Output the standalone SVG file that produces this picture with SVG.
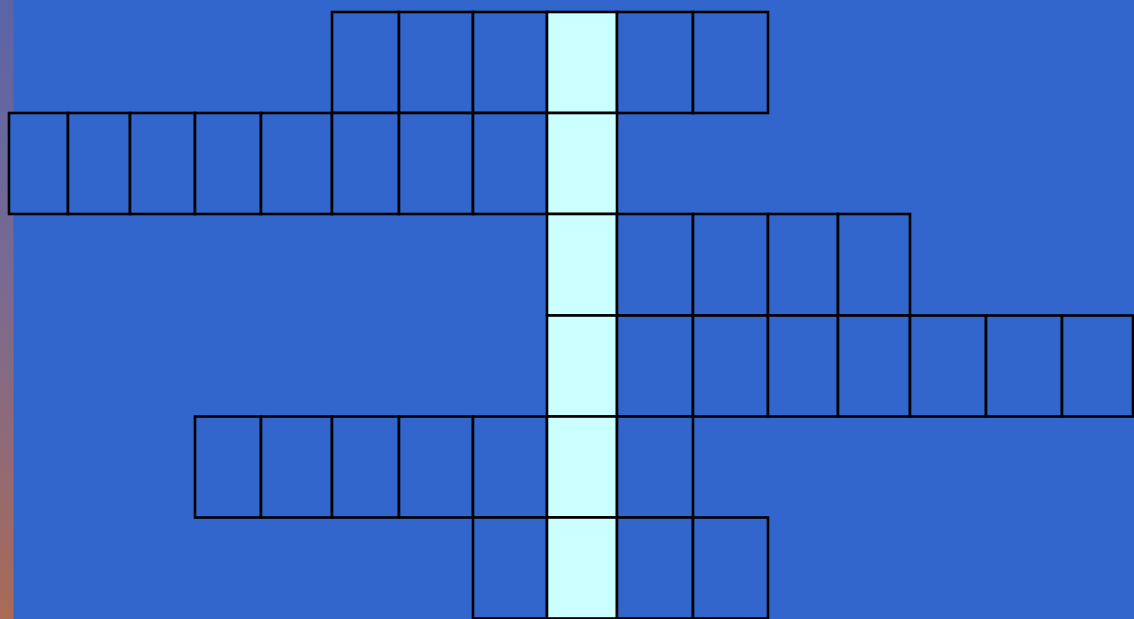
<svg xmlns="http://www.w3.org/2000/svg" width="1134" height="619" viewBox="0 0 1134 619">
<defs>
<linearGradient id="strip" x1="0" y1="0" x2="0" y2="1">
<stop offset="0" stop-color="#5a64a8"/>
<stop offset="0.5" stop-color="#7d6a8e"/>
<stop offset="1" stop-color="#aa6a56"/>
</linearGradient>
<style>
.c{fill:#3366cc;stroke:#000;stroke-width:2.6}
.h{fill:#ccffff;stroke:#000;stroke-width:2.6}
</style>
</defs>
<rect x="0" y="0" width="1134" height="619" fill="#3366cc"/>
<rect x="0" y="0" width="13.5" height="619" fill="url(#strip)"/>
<g id="row1">
<rect class="c" x="332" y="12" width="67" height="101"/>
<rect class="c" x="399" y="12" width="74" height="101"/>
<rect class="c" x="473" y="12" width="74" height="101"/>
<rect class="h" x="547" y="12" width="70" height="101"/>
<rect class="c" x="617" y="12" width="76" height="101"/>
<rect class="c" x="693" y="12" width="75" height="101"/>
</g>
<g id="row2">
<rect class="c" x="9" y="113" width="59" height="101"/>
<rect class="c" x="68" y="113" width="62" height="101"/>
<rect class="c" x="130" y="113" width="65" height="101"/>
<rect class="c" x="195" y="113" width="66" height="101"/>
<rect class="c" x="261" y="113" width="71" height="101"/>
<rect class="c" x="332" y="113" width="67" height="101"/>
<rect class="c" x="399" y="113" width="74" height="101"/>
<rect class="c" x="473" y="113" width="74" height="101"/>
<rect class="h" x="547" y="113" width="70" height="101"/>
</g>
<g id="row3">
<rect class="h" x="547" y="214" width="70" height="101.5"/>
<rect class="c" x="617" y="214" width="76" height="101.5"/>
<rect class="c" x="693" y="214" width="75" height="101.5"/>
<rect class="c" x="768" y="214" width="70" height="101.5"/>
<rect class="c" x="838" y="214" width="72" height="101.5"/>
</g>
<g id="row4">
<rect class="h" x="547" y="315.5" width="70" height="101"/>
<rect class="c" x="617" y="315.5" width="76" height="101"/>
<rect class="c" x="693" y="315.5" width="75" height="101"/>
<rect class="c" x="768" y="315.5" width="70" height="101"/>
<rect class="c" x="838" y="315.5" width="72" height="101"/>
<rect class="c" x="910" y="315.5" width="76" height="101"/>
<rect class="c" x="986" y="315.5" width="76" height="101"/>
<rect class="c" x="1062" y="315.5" width="71" height="101"/>
</g>
<g id="row5">
<rect class="c" x="195" y="416.5" width="66" height="101"/>
<rect class="c" x="261" y="416.5" width="71" height="101"/>
<rect class="c" x="332" y="416.5" width="67" height="101"/>
<rect class="c" x="399" y="416.5" width="74" height="101"/>
<rect class="c" x="473" y="416.5" width="74" height="101"/>
<rect class="h" x="547" y="416.5" width="70" height="101"/>
<rect class="c" x="617" y="416.5" width="76" height="101"/>
</g>
<g id="row6">
<rect class="c" x="473" y="517.5" width="74" height="101"/>
<rect class="h" x="547" y="517.5" width="70" height="101"/>
<rect class="c" x="617" y="517.5" width="76" height="101"/>
<rect class="c" x="693" y="517.5" width="75" height="101"/>
</g>
</svg>
